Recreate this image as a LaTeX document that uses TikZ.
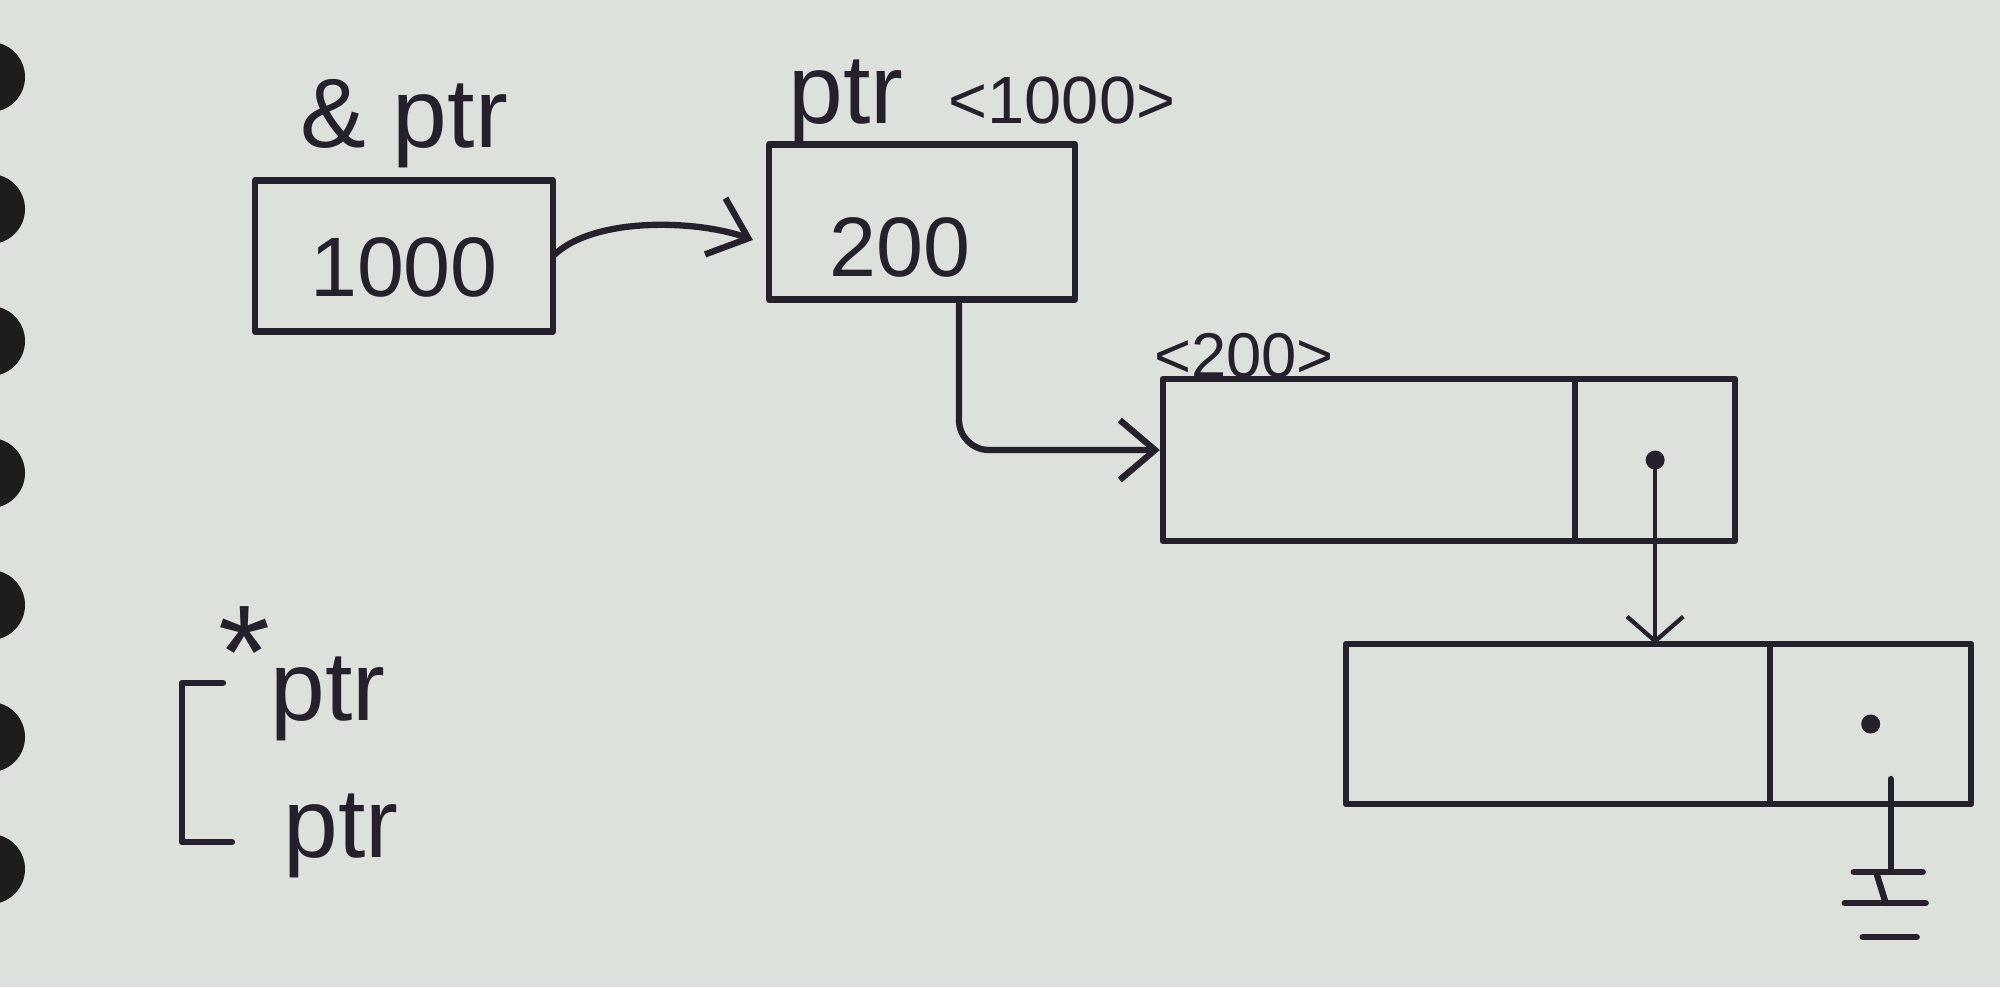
\documentclass[tikz,border=0pt]{standalone}
\usepackage{fontspec}
\setmainfont{Liberation Sans}
\usetikzlibrary{arrows.meta, positioning, calc}
\definecolor{paper}{RGB}{221, 225, 220}
\definecolor{ink}{RGB}{38, 32, 44}
\definecolor{holedark}{RGB}{30, 28, 28}

\begin{document}
\begin{tikzpicture}[
    x=0.01cm, y=-0.01cm,
    pen/.style={draw=ink, line width=1.8pt, line cap=round, line join=round},
    box/.style={pen, rectangle, inner sep=0pt, outer sep=0pt, text=ink,
                font=\fontsize{24}{28}\selectfont},
    cell/.style={pen, rectangle, inner sep=0pt, outer sep=0pt, minimum height=1.62cm},
    tag/.style={text=ink, inner sep=0pt, font=\fontsize{28}{32}\selectfont},
    addrtag/.style={text=ink, inner sep=0pt, font=\fontsize{18}{22}\selectfont},
    dot/.style={circle, fill=ink, minimum size=0.19cm, inner sep=0pt},
    barb/.style={-{Straight Barb[length=10pt, width=17pt]}}
]
    \useasboundingbox (0,0) rectangle (2000,987);
    \fill[paper] (0,0) rectangle (2000,987);
    % notebook rings
    \begin{scope}
        \clip (0,0) rectangle (2000,987);
        \foreach \k in {0,...,6}
            \fill[holedark] (-10,{77+132*\k}) circle[radius=0.35cm];
    \end{scope}

    % address and pointer boxes
    \node[box, minimum width=2.98cm, minimum height=1.51cm] (ampbox) at (404,256)
        {\raisebox{-0.11cm}[\height][0pt]{1000}};
    \node[box, minimum width=3.06cm, minimum height=1.55cm] (ptrbox) at (922,222)
        {\raisebox{-0.25cm}[\height][0pt]{200}\kern0.44cm};
    \node[tag, above=0.12cm of ampbox] (amplabel) {\& ptr};
    \node[tag, above=0pt of ptrbox, xshift=0.6cm] (ptrlabel)
        {ptr\hspace{0.45cm}{\fontsize{19}{22}\selectfont<1000>}};

    % list nodes
    \node[cell, minimum width=4.12cm] (n1data) at (1369,460) {};
    \node[cell, minimum width=1.60cm, right=0pt of n1data] (n1ptr) {};
    \node[cell, minimum width=4.24cm, minimum height=1.60cm] (n2data) at (1558,724) {};
    \node[cell, minimum width=2.01cm, minimum height=1.60cm, right=0pt of n2data] (n2ptr) {};
    \node[addrtag, above=0pt of n1data, xshift=-1.25cm] (n1addr) {<200>};
    \node[dot] (dot1) at (n1ptr) {};
    \node[dot] (dot2) at (n2ptr) {};

    % links
    \draw[pen, barb] (ampbox.east) .. controls +(40,-40) and +(-55,-20) .. ($(ptrbox.west)+(-16,18)$);
    \draw[pen, barb, rounded corners=0.3cm] ($(ptrbox.south)+(37,0)$) |- ($(n1data.west)+(-3,-10)$);
    \draw[pen, line width=1.2pt, -{Straight Barb[length=7pt, width=16pt]}]
        (dot1.south) -- (dot1 |- n2data.north);

    % null end
    \draw[pen] ($(dot2)+(20,55)$) -- ++(0,93) coordinate (gnd);
    \draw[pen] ($(gnd)+(-37,0)$) -- ($(gnd)+(32,0)$);
    \draw[pen] ($(gnd)+(-14,2)$) -- ($(gnd)+(-5,31)$);
    \draw[pen] ($(gnd)+(-46,31)$) -- ($(gnd)+(35,31)$);
    \draw[pen] ($(gnd)+(-28,65)$) -- ($(gnd)+(26,65)$);

    % legend
    \node[tag, anchor=base west] (deref) at (218,720)
        {\raisebox{0.22em}{\fontsize{38}{38}\selectfont *}ptr};
    \node[tag, anchor=base west] (plainptr) at (283,857) {ptr};
    \draw[pen] ($(deref.base west)+(5,-37)$) -- ++(-41,0) |- ($(plainptr.base west)+(-51,-15)$);
\end{tikzpicture}
\end{document}
